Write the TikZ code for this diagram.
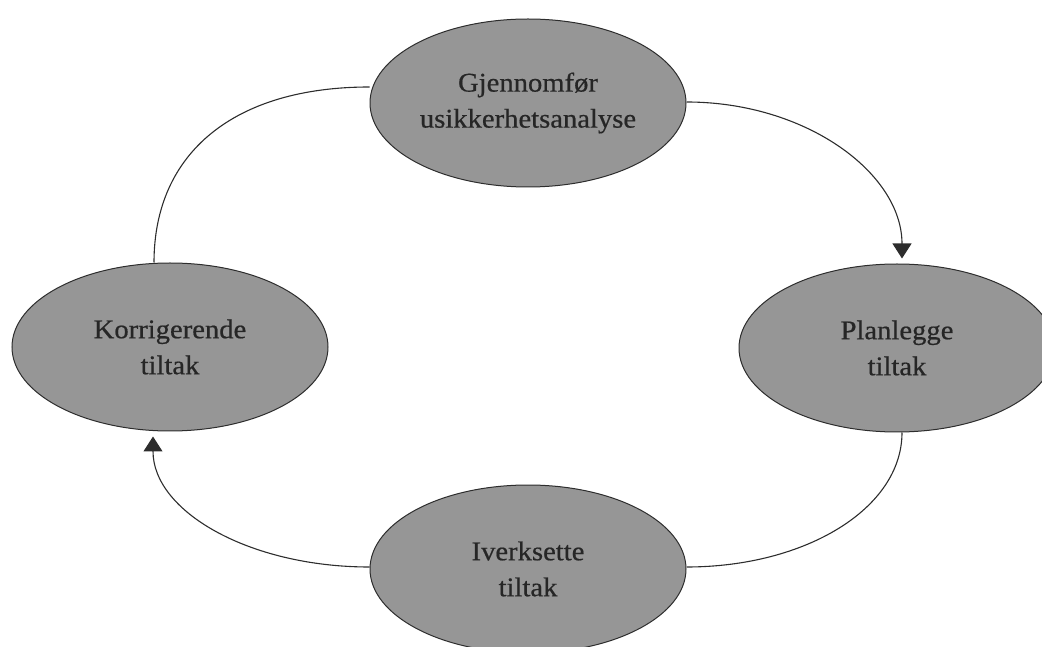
\documentclass[tikz,border=0pt]{standalone}
\usepackage{fontspec}
\newfontfamily\lblfont[FakeStretch=1.06,FakeBold=0.6]{Liberation Serif}
\usetikzlibrary{arrows.meta,shapes.geometric}
\definecolor{ellfill}{RGB}{150,150,150}
\definecolor{ink}{RGB}{45,45,45}
\tikzset{
  ell/.style={ellipse, draw=ink, line width=1pt, fill=ellfill, inner sep=0pt,
    minimum width=316pt, minimum height=168pt, align=center, text=black!85,
    font=\lblfont\fontsize{27}{36}\selectfont},
  conn/.style={draw=ink, line width=1.1pt},
  arr/.style={conn, -{Triangle[length=15pt,width=19pt]}}
}
\begin{document}
\begin{tikzpicture}[x=1pt,y=1pt]
\useasboundingbox (0,0) rectangle (1042,646);
\node[ell] (top) at (528,543) {Gjennomf\o r\\usikkerhetsanalyse};
\node[ell] (right) at (897,298) {Planlegge\\tiltak};
\node[ell] (left) at (170,299) {Korrigerende\\tiltak};
\node[ell] (bottom) at (528,77) {Iverksette\\tiltak};
% top -> right
\draw[arr, shorten >=5pt] ([yshift=1pt]top.east) .. controls +(120,0) and +(0,90) .. ([xshift=5pt]right.north);
% right -> bottom
\draw[conn] ([xshift=5pt]right.south) .. controls +(0,-76) and +(119,0) .. ([yshift=2pt]bottom.east);
% bottom -> left
\draw[arr, shorten >=5pt] ([yshift=2pt]bottom.west) .. controls +(-120,0) and +(0,-80) .. ([xshift=-17pt]left.south);
% left -> top
\draw[conn] ([xshift=-16pt]left.north) .. controls +(0,110) and +(-135,0) .. ([yshift=16pt]top.west);
\end{tikzpicture}
\end{document}
